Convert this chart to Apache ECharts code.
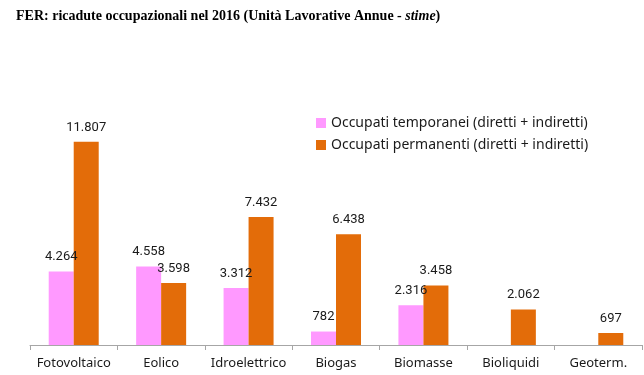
<!DOCTYPE html>
<html>
<head>
<meta charset="utf-8">
<script src="https://cdn.jsdelivr.net/npm/echarts@6/dist/echarts.min.js"></script>
<style>
  html, body { margin: 0; padding: 0; background: #fff; }
  #chart { width: 644px; height: 375px; }
</style>
</head>
<body>
<div id="chart"></div>
<script>
// categorie e valori (ULA stimate)
let categorie = ["Fotovoltaico", "Eolico", "Idroelettrico", "Biogas", "Biomasse", "Bioliquidi", "Geoterm."];
let temporanei = [4264, 4558, 3312, 782, 2316, null, null];
let permanenti = [11807, 3598, 7432, 6438, 3458, 2062, 697];
let nomiSerie = ["Occupati temporanei (diretti + indiretti)", "Occupati permanenti (diretti + indiretti)"];

// numeri col punto delle migliaia
function fmt(v) {
    return String(v).replace(/\B(?=(\d{3})+(?!\d))/g, ".");
}

let labelCfg = {
    show: true,
    position: "top",
    distance: 8,
    color: "#1a1a1a",
    fontSize: 13,
    fontFamily: "Roboto",
    formatter: function (p) {
        return p.value == null ? "" : fmt(p.value);
    }
};

let option = {
    animation: false,
    title: {
        text: "{b|FER: ricadute occupazionali nel 2016 (Unità Lavorative Annue - }{i|stime}{b|)}",
        left: 11,
        top: 4,
        textStyle: {
            rich: {
                b: { fontFamily: "Liberation Serif", fontWeight: "bold", fontSize: 14, color: "#000" },
                i: { fontFamily: "Liberation Serif", fontWeight: "bold", fontStyle: "italic", fontSize: 14, color: "#000" }
            }
        }
    },
    legend: {
        orient: "vertical",
        left: 311,
        top: 111,
        itemWidth: 10,
        itemHeight: 10,
        itemGap: 8,
        icon: "rect",
        textStyle: { fontFamily: "Noto Sans", fontSize: 14, color: "#1a1a1a" },
        data: nomiSerie
    },
    grid: {
        top: 104,
        left: 30,
        right: 2,
        bottom: 30
    },
    xAxis: {
        type: "category",
        data: categorie,
        axisLine: { lineStyle: { color: "#a6a6a6" } },
        axisTick: { show: true, length: 5, lineStyle: { color: "#a6a6a6" } },
        axisLabel: { interval: 0, color: "#1a1a1a", fontSize: 13, fontFamily: "Noto Sans", margin: 12 }
    },
    yAxis: {
        type: "value",
        min: 0,
        max: 14000,
        show: false,
        splitLine: { show: false }
    },
    series: [
        {
            name: nomiSerie[0],
            type: "bar",
            data: temporanei,
            barWidth: 25,
            barGap: "0%",
            itemStyle: { color: "#ff99ff" },
            label: labelCfg
        },
        {
            name: nomiSerie[1],
            type: "bar",
            data: permanenti,
            barWidth: 25,
            itemStyle: { color: "#e36c09" },
            label: labelCfg
        }
    ]
};

let myChart = echarts.init(document.getElementById("chart"));
myChart.setOption(option);

window.addEventListener("resize", function () {
    myChart.resize();
});
</script>
</body>
</html>
